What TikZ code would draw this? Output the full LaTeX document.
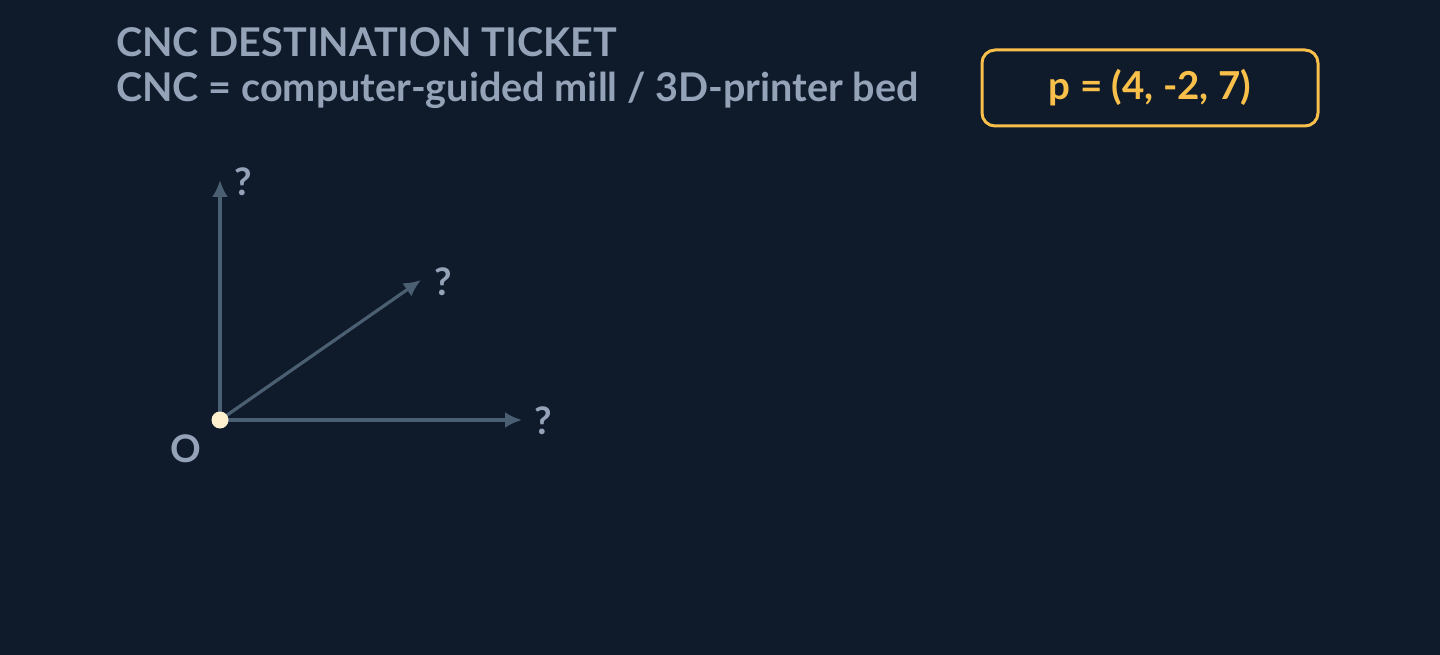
\documentclass[tikz,border=0pt]{standalone}
\usepackage{fontspec}
\setmainfont{Lato}
\usetikzlibrary{arrows.meta}
\definecolor{bg}{HTML}{0F1A2A}
\definecolor{titlec}{HTML}{94A3B8}
\definecolor{axisc}{HTML}{4A5F72}
\definecolor{gold}{HTML}{F8C04A}
\definecolor{dotc}{HTML}{FDF1CF}
\begin{document}
\begin{tikzpicture}[x=1pt,y=-1pt,
  titletext/.style={text=titlec,font=\fontsize{39.6}{46}\selectfont\bfseries,inner sep=0pt,anchor=base west},
  axisarrow/.style={draw=axisc,line width=3.2pt,-{Latex[length=17pt,width=16pt]}},
  qlabel/.style={text=titlec,font=\fontsize{38}{44}\selectfont\bfseries,inner sep=0pt}]
\fill[bg] (0,0) rectangle (1440,655);
\useasboundingbox (0,0) rectangle (1440,655);
\node[titletext] (t1) at (116,57) {CNC DESTINATION TICKET};
\node[titletext] (t2) at (116,102) {CNC = computer-guided mill / 3D-printer bed};
\node[draw=gold,line width=3pt,rounded corners=13pt,minimum width=336pt,minimum height=76pt,text=gold,font=\fontsize{38.5}{44}\selectfont\bfseries] (ticket) at (1150,88) {p = (4, -2, 7)};
\coordinate (o) at (220,420);
\coordinate (ytip) at (220,180);
\coordinate (dtip) at (421,280);
\coordinate (xtip) at (522,420);
\draw[axisarrow] (o) -- (ytip);
\draw[axisarrow] (o) -- (dtip);
\draw[axisarrow] (o) -- (xtip);
\fill[dotc] (o) circle (8.5pt);
\node[qlabel] (qy) at (243,182) {?};
\node[qlabel] (qd) at (443,282) {?};
\node[qlabel] (qx) at (543,421) {?};
\node[qlabel] (lo) at (186,449) {O};
\end{tikzpicture}
\end{document}
